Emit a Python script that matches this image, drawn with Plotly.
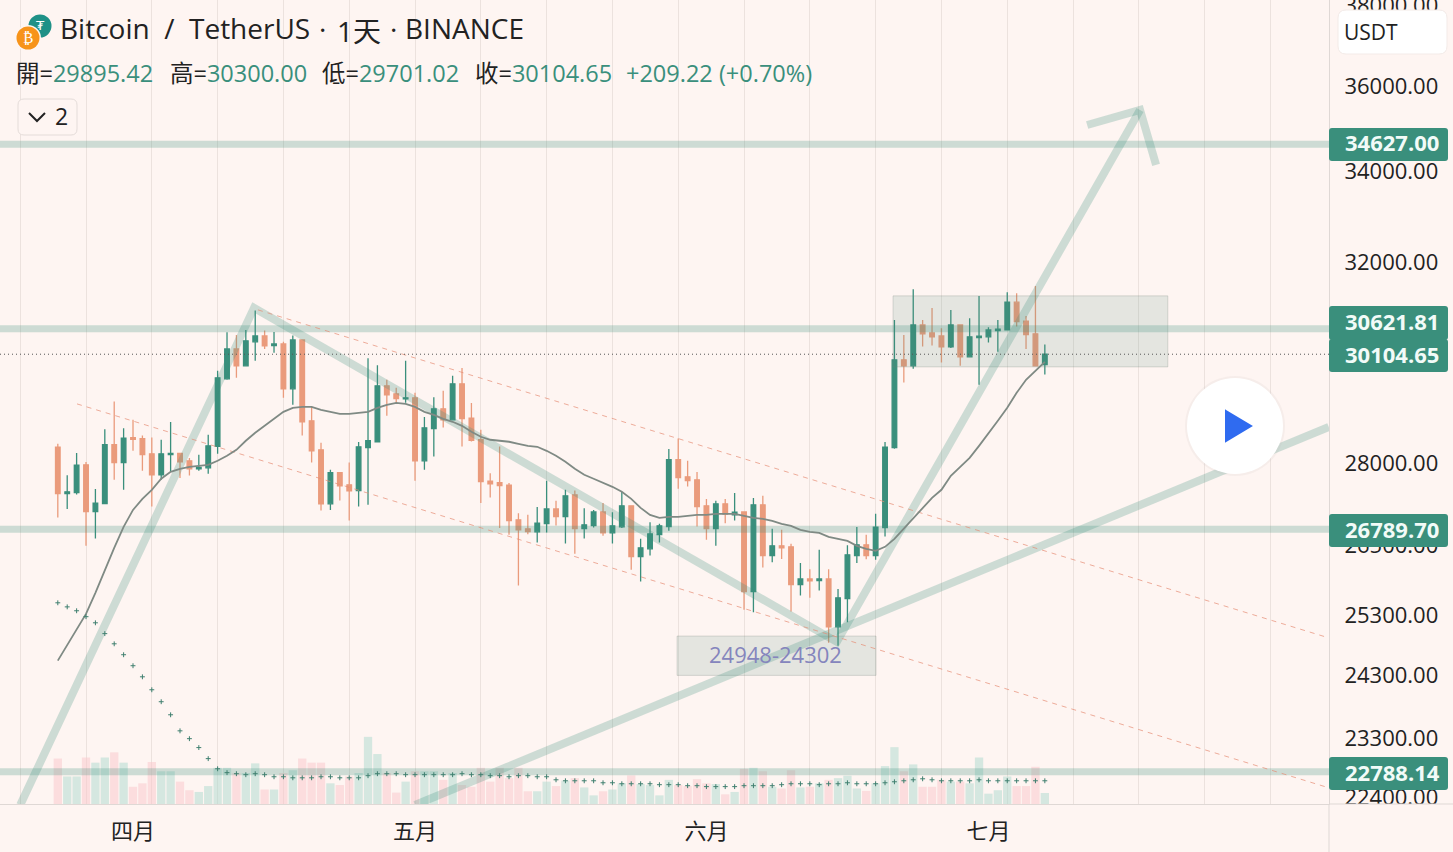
#!/usr/bin/env python3
import math

import pandas as pd
import plotly.graph_objs as go

WIDTH = 1453
HEIGHT = 852
PLOT_RIGHT = 1329
PLOT_BOTTOM = 804

BG = "#fef5f2"
GREEN = "#3a8f7c"
RED = "#ea9b7c"
DRAW = "rgba(58,143,124,0.25)"
AXIS_LINE = "#dfd8d5"
TEXT_FONT = "Open Sans, Noto Sans CJK TC, sans-serif"

# daily open, high, low, close
ohlc = [
    (28297, 28360, 26998, 27435), (27435, 27773, 27155, 27466), (27453, 28184, 27417, 27960),
    (27965, 28016, 26494, 27106), (27106, 27516, 26623, 27260), (27252, 28638, 27241, 28341),
    (28341, 29170, 27687, 28008), (28008, 28657, 27503, 28468), (28474, 28817, 28227, 28442),
    (28455, 28517, 27853, 28158), (28171, 28480, 27197, 27780), (27780, 28436, 27687, 28171),
    (28158, 28773, 27840, 28177), (28177, 28184, 27718, 28021), (28040, 28090, 27767, 27891),
    (27891, 28152, 27853, 27915), (27909, 28530, 27798, 28321), (28309, 29773, 28171, 29635),
    (29615, 30550, 29596, 30212), (30212, 30495, 29635, 29873), (29873, 30597, 29858, 30374),
    (30354, 30994, 29972, 30475), (30475, 30583, 30212, 30272), (30279, 30556, 30132, 30313),
    (30313, 30354, 29242, 29418), (29418, 30481, 29106, 30394), (30394, 30408, 28517, 28779),
    (28798, 29073, 28008, 28227), (28246, 28379, 27124, 27247), (27247, 27872, 27137, 27817),
    (27817, 27817, 27307, 27577), (27595, 28008, 26944, 27485), (27490, 28392, 27197, 28303),
    (28290, 30026, 27229, 28417), (28398, 29886, 28392, 29477), (29477, 29596, 28894, 29300),
    (29320, 29438, 29145, 29228), (29222, 29972, 29145, 29242), (29242, 29340, 27669, 28040),
    (28040, 28869, 27872, 28663), (28650, 29255, 28120, 29028), (29028, 29379, 28669, 28817),
    (28817, 29674, 28803, 29517), (29517, 29827, 28309, 28842), (28850, 29139, 28404, 28423),
    (28436, 28625, 27260, 27655), (27663, 27810, 27362, 27613), (27632, 28309, 26810, 27582),
    (27589, 27626, 26689, 26944), (26957, 27077, 25802, 26779), (26797, 27047, 26702, 26749),
    (26743, 27190, 26552, 26898), (26891, 27669, 26731, 27155), (27155, 27302, 26855, 27016),
    (27016, 27503, 26535, 27393), (27411, 27490, 26354, 26802), (26802, 27168, 26623, 26868),
    (26855, 27137, 26820, 27101), (27101, 27260, 26672, 26725), (26725, 27095, 26535, 26850),
    (26832, 27461, 26810, 27210), (27210, 27210, 26074, 26306), (26306, 26618, 25871, 26459),
    (26442, 26916, 26324, 26707), (26695, 26886, 26552, 26850), (26838, 28259, 26761, 28059),
    (28059, 28461, 27521, 27729), (27742, 28040, 27564, 27674), (27687, 27829, 26838, 27197),
    (27210, 27333, 26600, 26802), (26802, 27302, 26494, 27247), (27247, 27333, 26898, 27060),
    (27047, 27442, 26944, 27095), (27101, 27101, 25387, 25700), (25700, 27351, 25348, 27229),
    (27229, 27393, 26114, 26324), (26324, 26797, 26208, 26494), (26494, 26779, 26265, 26459),
    (26477, 26530, 25358, 25820), (25820, 26191, 25632, 25917), (25917, 26086, 25592, 25883),
    (25888, 26424, 25717, 25917), (25917, 26086, 24835, 25101), (25101, 25741, 24785, 25592),
    (25580, 26506, 25179, 26336), (26324, 26827, 26191, 26512), (26512, 26689, 26260, 26324),
    (26324, 27065, 26248, 26827), (26820, 28392, 26659, 28297), (28290, 30801, 28265, 29992),
    (29992, 30495, 29543, 29873), (29873, 31439, 29813, 30699), (30699, 30801, 30259, 30516),
    (30536, 31049, 30279, 30455), (30475, 30631, 29938, 30252), (30252, 31008, 30232, 30699),
    (30699, 30699, 29873, 30052), (30052, 30836, 30052, 30455), (30441, 31298, 29497, 30469),
    (30455, 30652, 30340, 30597), (30583, 30801, 30152, 30611), (30597, 31376, 30597, 31167),
    (31167, 31355, 30664, 30766), (30774, 30883, 30212, 30501), (30516, 31508, 29873, 29873),
    (29895.42, 30300.00, 29701.02, 30104.65),
]

# grey moving average
ma = [
    24542, 24803, 25051, 25319, 25678, 26074, 26459, 26832, 27137, 27338, 27503, 27706,
    27835, 27891, 27928, 27947, 27965, 28040, 28134, 28246, 28417, 28568, 28701, 28836,
    28971, 29048, 29067, 29067, 29009, 28971, 28932, 28932, 28951, 28971, 29048, 29106,
    29145, 29125, 29067, 28971, 28913, 28836, 28779, 28701, 28587, 28493, 28436, 28417,
    28398, 28360, 28321, 28303, 28227, 28134, 28021, 27891, 27780, 27706, 27632, 27558,
    27466, 27338, 27173, 27047, 26993, 27011, 27011, 27029, 27047, 27047, 27065, 27065,
    27065, 27029, 26993, 26975, 26939, 26886, 26850, 26779, 26743, 26725, 26654, 26618,
    26582, 26494, 26441, 26406, 26477, 26618, 26797, 26975, 27155, 27356, 27503, 27761,
    27928, 28096, 28321, 28549, 28798, 29048, 29340, 29596, 29773, 29952,
]

# little plus marks that run along the bottom
plus = [
    25507, 25438, 25372, 25272, 25169, 24988, 24819, 24639, 24459, 24279, 24070, 23879,
    23672, 23420, 23298, 23160, 22990, 22835, 22776, 22760, 22745, 22760, 22745, 22714,
    22714, 22698, 22698, 22698, 22714, 22714, 22698, 22698, 22698, 22730, 22760, 22760,
    22760, 22745, 22745, 22745, 22745, 22745, 22745, 22760, 22745, 22745, 22730, 22730,
    22714, 22730, 22730, 22714, 22714, 22668, 22653, 22653, 22653, 22653, 22623, 22623,
    22608, 22608, 22608, 22608, 22594, 22594, 22594, 22579, 22579, 22565, 22565, 22565,
    22565, 22579, 22579, 22579, 22579, 22594, 22608, 22608, 22608, 22594, 22608, 22608,
    22623, 22608, 22608, 22608, 22623, 22638, 22653, 22668, 22683, 22668, 22653, 22653,
    22653, 22653, 22668, 22653, 22653, 22653, 22653, 22653, 22653, 22653,
]

volume = [
    132, 80, 80, 135, 120, 135, 150, 120, 50, 60, 122, 95, 95, 65, 40, 35, 52, 105, 105, 90,
    90, 118, 42, 42, 90, 98, 132, 120, 120, 60, 55, 80, 90, 195, 145, 90, 33, 65, 95, 95,
    95, 70, 90, 55, 50, 105, 65, 105, 75, 105, 37, 37, 65, 52, 68, 75, 48, 25, 37, 42,
    60, 83, 58, 55, 25, 70, 55, 52, 72, 60, 58, 28, 35, 102, 105, 95, 50, 45, 98, 48,
    50, 60, 70, 75, 82, 45, 38, 60, 110, 165, 95, 115, 50, 50, 70, 65, 65, 60, 135, 30,
    40, 80, 52, 52, 108, 32,
]

dates = pd.date_range("2023-03-24", periods=len(ohlc), freq="D")
df = pd.DataFrame(ohlc, columns=["open", "high", "low", "close"], index=dates)
df["ma"] = ma
df["plus"] = plus
df["volume"] = volume

x_range = ["2023-03-17 20:24", "2023-08-06 05:30"]
y_range = [math.log10(22305), math.log10(38124)]


def paper_x(px):
    return px / WIDTH


def paper_y(py):
    return 1 - py / HEIGHT


def box_path(x0, y0, x1, y1, r):
    # rounded rectangle in page pixels
    a, b, c, d = paper_x(x0), paper_x(x1), paper_y(y0), paper_y(y1)
    rx, ry = r / WIDTH, r / HEIGHT
    return (
        f"M{a + rx},{c} L{b - rx},{c} Q{b},{c} {b},{c - ry} L{b},{d + ry} Q{b},{d} {b - rx},{d} "
        f"L{a + rx},{d} Q{a},{d} {a},{d + ry} L{a},{c - ry} Q{a},{c} {a + rx},{c} Z"
    )


def page_shape(path, fill, line="rgba(0,0,0,0)", width=1):
    return dict(
        type="path", path=path, xref="paper", yref="paper",
        fillcolor=fill, line=dict(color=line, width=width), layer="above",
    )


def page_line(x0, y0, x1, y1, color, width=1):
    return page_shape(
        f"M{paper_x(x0)},{paper_y(y0)} L{paper_x(x1)},{paper_y(y1)}", "rgba(0,0,0,0)", color, width
    )


def circle(cx, cy, r, fill, line="rgba(0,0,0,0)", width=0):
    return dict(
        type="circle", xref="paper", yref="paper",
        x0=paper_x(cx - r), x1=paper_x(cx + r), y0=paper_y(cy + r), y1=paper_y(cy - r),
        fillcolor=fill, line=dict(color=line, width=width), layer="above",
    )


def page_text(px, py, text, size, color="#222222", family=TEXT_FONT, anchor="left"):
    return dict(
        x=paper_x(px), y=paper_y(py), xref="paper", yref="paper", text=text, showarrow=False,
        xanchor=anchor, yanchor="middle", font=dict(size=size, color=color, family=family),
    )


fig = go.Figure()

bar_colors = [
    "rgba(172,218,205,0.5)" if c >= o else "rgba(250,198,201,0.5)"
    for o, c in zip(df["open"], df["close"])
]
fig.add_trace(
    go.Bar(x=df.index, y=df["volume"], marker_color=bar_colors, marker_line_width=0,
           width=0.88 * 86400000, yaxis="y2")
)
fig.add_trace(
    go.Candlestick(
        x=df.index, open=df["open"], high=df["high"], low=df["low"], close=df["close"],
        increasing=dict(line=dict(color=GREEN, width=1.3), fillcolor=GREEN),
        decreasing=dict(line=dict(color=RED, width=1.3), fillcolor=RED),
        whiskerwidth=0, yaxis="y",
    )
)

# boxes drawn on the chart
zones = [
    (("2023-06-20 20:24", "2023-07-20 02:00"), (29851, 31299), "rgba(80,140,120,0.15)"),
    (("2023-05-28 21:00", "2023-06-19 01:00"), (24302, 24948), "rgba(80,140,120,0.15)"),
]
for (t0, t1), (p0, p1), fill in zones:
    fig.add_trace(
        go.Scatter(x=[t0, t1, t1, t0, t0], y=[p0, p0, p1, p1, p0], mode="lines", fill="toself",
                   fillcolor=fill, line=dict(color="rgba(120,130,125,0.25)", width=1))
    )

# thick levels
levels = [34627.00, 30621.81, 26789.70, 22788.14]
for level in levels:
    fig.add_trace(
        go.Scatter(x=x_range, y=[level, level], mode="lines", line=dict(color=DRAW, width=7))
    )

# zigzag with arrow head and the long rising line
zigzag = [
    ("2023-03-20 00:00", 22290), ("2023-04-13 21:00", 31050),
    ("2023-06-14 21:00", 24851), ("2023-07-17 03:00", 35429),
]
head = [("2023-07-11 12:00", 35076), ("2023-07-17 03:00", 35429), ("2023-07-18 20:00", 34154)]
rising = [("2023-05-01 00:00", 22290), ("2023-08-06 05:00", 28680)]
for pts in (zigzag, head, rising):
    fig.add_trace(
        go.Scatter(x=[p[0] for p in pts], y=[p[1] for p in pts], mode="lines",
                   line=dict(color=DRAW, width=8))
    )

# falling channel
channel = [
    [("2023-04-14 07:00", 31008), ("2023-08-05 19:00", 24937)],
    [("2023-03-26 01:00", 29124), ("2023-08-05 19:00", 22565)],
]
for pts in channel:
    fig.add_trace(
        go.Scatter(x=[p[0] for p in pts], y=[p[1] for p in pts], mode="lines",
                   line=dict(color="rgba(230,140,115,0.7)", width=1, dash="5px,5px"))
    )

fig.add_trace(
    go.Scatter(x=df.index, y=df["ma"], mode="lines", line=dict(color="#7f8a84", width=1.8))
)
fig.add_trace(
    go.Scatter(x=df.index, y=df["plus"], mode="markers",
               marker=dict(symbol="cross-thin", size=3.5, line=dict(color="#3f7f6f", width=1)))
)
fig.add_trace(
    go.Scatter(x=x_range, y=[30104.65, 30104.65], mode="lines",
               line=dict(color="#555555", width=1, dash="1px,3px"))
)

month_ticks = ["2023-04-01", "2023-05-01", "2023-06-01", "2023-07-01"]
price_ticks = [38000, 36000, 34000, 32000, 28000, 26500, 25300, 24300, 23300, 22400]

fig.update_layout(
    width=WIDTH,
    height=HEIGHT,
    margin=dict(l=0, r=0, t=0, b=0),
    paper_bgcolor=BG,
    plot_bgcolor=BG,
    showlegend=False,
    hovermode=False,
    dragmode=False,
    boxgap=0.3,
    xaxis=dict(
        type="date", range=x_range, domain=[0, PLOT_RIGHT / WIDTH], automargin=False,
        rangeslider=dict(visible=False),
        tickmode="array", tickvals=month_ticks, ticktext=["四月", "五月", "六月", "七月"],
        showgrid=False, zeroline=False,
        ticks="outside", ticklen=8, tickcolor="rgba(0,0,0,0)",
        tickfont=dict(size=22, color="#222222", family=TEXT_FONT),
        showline=True, linecolor=AXIS_LINE, linewidth=1,
        minor=dict(dtick=7 * 86400000, tick0="2023-05-01", showgrid=True,
                   gridcolor="#ece2de", gridwidth=1, ticks=""),
    ),
    yaxis=dict(
        type="log", range=y_range, domain=[1 - PLOT_BOTTOM / HEIGHT, 1], overlaying="y2", side="right",
        automargin=False, ticklabeloverflow="allow",
        tickmode="array", tickvals=price_ticks, ticktext=[f"{t:.2f}" for t in price_ticks],
        tickfont=dict(size=22, color="#222222", family=TEXT_FONT),
        showgrid=False, zeroline=False,
        ticks="outside", ticklen=10, tickcolor="rgba(0,0,0,0)",
        showline=True, linecolor=AXIS_LINE, linewidth=1,
    ),
    yaxis2=dict(
        range=[0, PLOT_BOTTOM * 2.904], domain=[1 - PLOT_BOTTOM / HEIGHT, 1],
        visible=False, showgrid=False, zeroline=False,
    ),
)

shapes = [
    # hide what runs under the time scale
    page_shape(box_path(PLOT_RIGHT + 1, PLOT_BOTTOM, WIDTH, HEIGHT, 0.01), BG),
    page_line(PLOT_RIGHT, PLOT_BOTTOM, WIDTH, PLOT_BOTTOM, AXIS_LINE),
    page_line(PLOT_RIGHT, PLOT_BOTTOM, PLOT_RIGHT, HEIGHT, AXIS_LINE),
    page_shape(box_path(1338, 10, 1447, 54, 8), "#ffffff", "#f3ebe8"),
    page_shape(box_path(18, 99, 77, 135, 6), BG, "#e4dcd9"),
    page_shape(
        f"M{paper_x(29)},{paper_y(113)} L{paper_x(37)},{paper_y(121)} L{paper_x(45)},{paper_y(113)}",
        "rgba(0,0,0,0)", "#222222", 2,
    ),
    circle(40, 26, 11.5, "#1f9187"),
    circle(28, 38, 13, BG),
    circle(28, 38, 11.5, "#f7931a"),
    circle(1235, 426, 50, "rgba(190,180,180,0.12)"),
    circle(1235, 426, 48, "#ffffff"),
    page_shape(
        f"M{paper_x(1226)},{paper_y(411)} L{paper_x(1251)},{paper_y(426)} "
        f"L{paper_x(1226)},{paper_y(441)} Z",
        "#2f6bf0", "#2f6bf0", 2,
    ),
]

# price tags on the right
tags = [(34627.00, 128, 161), (30621.81, 306, 340), (30104.65, 339, 372), (26789.70, 514, 547), (22788.14, 757, 790)]
annotations = []
for price, top, bottom in tags:
    shapes.append(page_shape(box_path(1329, top, 1448, bottom, 3), GREEN))
    annotations.append(page_text(1343, (top + bottom) / 2 - 2, f"<b>{price:.2f}</b>", 22, "#f2fbf8"))


def green(value):
    return f'<span style="color:{GREEN}">{value}</span>'


annotations += [
    page_text(58, 28, "Bitcoin\u00a0 /\u00a0 TetherUS", 28),
    page_text(317, 29, "·", 28),
    page_text(335, 31, "1天", 28),
    page_text(388, 29, "·", 28),
    page_text(403, 28, "BINANCE", 28),
    page_text(14, 73, f"開={green('29895.42')}", 23.5),
    page_text(168, 73, f"高={green('30300.00')}", 23.5),
    page_text(320, 73, f"低={green('29701.02')}", 23.5),
    page_text(473, 73, f"收={green('30104.65')}", 23.5),
    page_text(624, 73, green("+209.22 (+0.70%)"), 23.5),
    page_text(53, 116, "2", 23),
    page_text(1342, 32, "USDT", 21),
    page_text(28, 38, "₿", 15, "#ffffff", "DejaVu Sans", "center"),
    page_text(40, 26, "₮", 13, "#ffffff", "DejaVu Sans", "center"),
    dict(
        x="2023-06-08 09:00", y=math.log10(24655), xref="x", yref="y", text="24948-24302",
        showarrow=False, font=dict(size=22, color="#8585bd", family=TEXT_FONT),
    ),
]
fig.update_layout(shapes=shapes, annotations=annotations)

fig.write_html(
    "out.html",
    config={"displayModeBar": False},
    post_script="document.body.style.margin='0';document.body.style.overflow='hidden';",
)
